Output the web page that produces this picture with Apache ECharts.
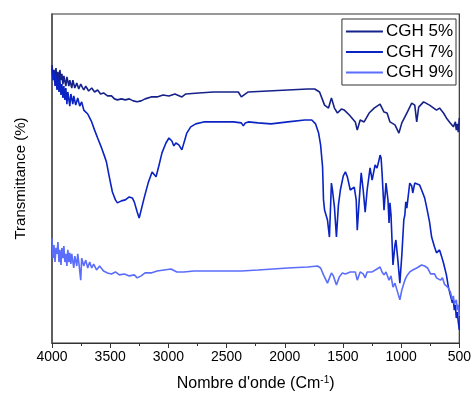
<!DOCTYPE html>
<html>
<head>
<meta charset="utf-8">
<style>
  html, body { margin: 0; padding: 0; background: #fff; }
  #chart { width: 474px; height: 397px; }
</style>
<script src="https://cdn.jsdelivr.net/npm/echarts@6/dist/echarts.min.js"></script>
</head>
<body>
<div id="chart"></div>
<script>
// FTIR spectra: [wavenumber (cm-1), transmittance (arb. units)]
const seriesNames = ['CGH 5%', 'CGH 7%', 'CGH 9%'];
const seriesColors = ['#16228a', '#0a23c2', '#5b6dfb'];

const cgh5 = [
  [4000,84.5],[3991,80.5],[3983,83.0],[3974,79.9],[3966,83.6],[3957,79.3],[3949,82.4],[3940,78.7],
  [3932,83.0],[3923,79.9],[3915,81.8],[3906,78.7],[3898,81.2],[3881,78.1],[3872,80.9],[3855,78.1],
  [3847,79.9],[3830,77.5],[3821,79.9],[3804,77.5],[3787,79.0],[3770,77.2],[3753,78.7],[3727,76.9],
  [3710,78.1],[3685,76.6],[3659,77.5],[3634,76.3],[3608,76.9],[3583,75.7],[3557,76.0],[3523,75.1],
  [3489,75.1],[3463,74.2],[3438,73.9],[3404,74.2],[3370,73.9],[3336,74.2],[3302,73.6],[3268,73.3],
  [3234,73.6],[3200,74.2],[3148,74.8],[3097,74.8],[3046,75.4],[2995,75.1],[2944,75.7],[2884,74.8],
  [2850,75.7],[2740,76.0],[2612,76.3],[2484,76.3],[2399,76.3],[2373,74.8],[2356,75.4],[2314,76.3],
  [2144,76.6],[1973,76.9],[1803,77.2],[1743,77.2],[1701,76.3],[1675,73.9],[1658,72.3],[1624,71.4],
  [1599,74.5],[1573,71.4],[1547,69.9],[1514,71.1],[1488,70.8],[1445,69.3],[1394,67.2],[1377,64.7],
  [1352,67.8],[1318,67.2],[1275,69.9],[1232,71.4],[1181,72.6],[1147,70.2],[1121,69.9],[1096,67.2],
  [1053,66.3],[1019,63.8],[994,66.9],[951,69.9],[909,72.9],[883,72.3],[866,67.2],[849,71.7],
  [807,73.3],[756,72.3],[696,70.8],[670,71.4],[636,69.9],[611,68.4],[585,67.2],[568,67.8],
  [551,65.7],[534,67.2],[526,64.7],[517,66.6],[509,64.1],[500,68.4]
];

const cgh7 = [
  [4000,83.6],[3991,79.9],[3983,82.4],[3974,78.1],[3966,81.5],[3957,76.9],[3949,80.5],[3940,76.3],
  [3932,79.9],[3923,75.4],[3915,78.7],[3906,74.5],[3898,78.1],[3889,73.9],[3881,77.5],[3872,72.6],
  [3864,76.3],[3847,72.0],[3838,75.7],[3821,72.6],[3813,75.1],[3796,72.3],[3779,74.5],[3762,72.0],
  [3745,73.3],[3727,70.8],[3710,71.4],[3693,69.6],[3676,68.4],[3659,67.2],[3634,64.7],[3608,62.3],
  [3574,59.3],[3549,56.8],[3532,55.0],[3506,50.2],[3481,45.9],[3455,43.5],[3438,42.6],[3404,43.2],
  [3370,43.5],[3336,44.4],[3310,44.1],[3293,42.9],[3268,39.8],[3251,38.0],[3234,40.4],[3208,44.1],
  [3174,48.6],[3140,52.0],[3123,51.4],[3106,50.5],[3080,54.1],[3055,57.8],[3021,60.8],[2995,62.3],
  [2970,61.4],[2953,59.9],[2936,60.8],[2910,60.2],[2884,58.7],[2859,61.7],[2842,63.8],[2808,65.7],
  [2765,66.6],[2697,67.2],[2569,67.2],[2442,67.2],[2373,66.9],[2356,66.0],[2339,66.9],[2314,67.2],
  [2229,66.9],[2118,66.6],[1973,67.2],[1828,67.8],[1768,67.8],[1735,66.6],[1709,63.8],[1692,60.2],
  [1675,53.5],[1667,43.5],[1658,40.4],[1650,39.8],[1641,40.4],[1633,37.4],[1616,32.2],[1599,48.6],
  [1590,46.5],[1573,41.3],[1556,32.2],[1539,41.9],[1522,46.5],[1497,50.8],[1479,52.0],[1462,50.5],
  [1437,46.5],[1420,47.1],[1403,47.4],[1386,43.5],[1377,34.3],[1360,43.5],[1343,51.7],[1326,46.5],
  [1309,39.8],[1292,46.5],[1267,53.2],[1249,49.5],[1224,54.1],[1207,53.2],[1190,55.6],[1181,57.1],
  [1172,56.2],[1164,51.7],[1147,40.4],[1130,48.6],[1113,43.5],[1104,36.5],[1096,42.6],[1087,38.9],
  [1070,23.7],[1053,29.8],[1045,31.3],[1028,25.2],[1011,18.2],[994,26.7],[977,37.4],[968,38.9],
  [960,42.9],[951,41.0],[934,46.2],[926,48.6],[909,47.7],[900,45.6],[883,48.6],[866,48.6],
  [841,48.0],[824,46.5],[798,44.1],[781,41.3],[756,36.8],[738,32.2],[713,29.2],[696,27.4],
  [679,27.7],[670,28.3],[653,26.4],[636,24.3],[611,20.7],[594,17.0],[577,14.6],[560,12.2],
  [551,13.1],[543,10.0],[534,11.6],[526,7.6],[517,9.4],[509,6.4],[500,4.0]
];

const cgh9 = [
  [4000,31.9],[3991,25.8],[3983,29.8],[3974,24.6],[3966,28.9],[3957,27.1],[3949,30.7],[3940,24.6],
  [3932,28.3],[3923,23.7],[3915,28.9],[3906,25.8],[3898,29.5],[3889,24.6],[3881,27.1],[3872,23.4],
  [3864,28.3],[3855,24.6],[3847,27.4],[3838,24.0],[3830,27.1],[3813,22.8],[3804,26.4],[3787,23.4],
  [3779,27.1],[3770,24.6],[3753,19.1],[3745,25.8],[3727,23.4],[3710,25.2],[3693,22.8],[3676,24.6],
  [3659,22.8],[3642,24.0],[3617,22.2],[3591,23.4],[3557,21.9],[3523,21.3],[3489,21.0],[3455,21.6],
  [3421,20.7],[3378,21.0],[3336,20.4],[3293,20.7],[3268,19.8],[3234,20.4],[3200,21.3],[3148,21.3],
  [3097,21.9],[3038,22.2],[2978,22.5],[2927,21.6],[2867,21.6],[2782,21.9],[2654,21.9],[2484,21.9],
  [2373,21.9],[2229,22.2],[1973,22.8],[1803,23.1],[1718,23.4],[1692,22.8],[1667,20.7],[1650,20.1],
  [1633,18.2],[1616,18.2],[1599,21.3],[1582,20.4],[1556,17.6],[1531,20.1],[1505,21.3],[1479,21.0],
  [1462,20.7],[1437,21.6],[1420,21.3],[1394,21.6],[1377,19.1],[1352,21.6],[1326,21.0],[1309,19.8],
  [1292,21.6],[1275,22.2],[1249,21.6],[1232,22.2],[1207,22.5],[1181,23.1],[1164,21.6],[1147,20.7],
  [1130,21.6],[1104,19.1],[1087,20.4],[1070,17.0],[1053,18.2],[1036,18.2],[1011,13.1],[994,16.1],
  [968,19.1],[951,20.4],[926,21.6],[900,22.2],[866,22.8],[824,23.7],[798,23.4],[773,22.8],
  [747,21.0],[730,20.4],[713,21.0],[696,19.8],[679,20.4],[662,19.1],[645,19.8],[628,17.9],
  [611,18.5],[594,16.7],[577,15.5],[560,13.1],[551,14.3],[543,11.9],[526,13.1],[517,10.0],
  [509,11.6],[500,8.2]
];

const xTicks = { min: 500, max: 4000, step: 500 };

const chart = echarts.init(document.getElementById('chart'), null, { renderer: 'canvas' });
const font = 'Liberation Sans, Arial, sans-serif';

chart.setOption({
  animation: false,
  backgroundColor: '#fff',
  textStyle: { fontFamily: font },
  grid: { left: 52, right: 11, top: 14, bottom: 53, show: true, borderColor: '#333', borderWidth: 1.2 },
  legend: {
    data: seriesNames,
    orient: 'vertical',
    right: 18,
    top: 19,
    borderColor: '#333',
    borderWidth: 1,
    padding: [4, 3, 4, 4],
    icon: 'rect',
    itemWidth: 37,
    itemHeight: 2,
    itemGap: 3.5,
    textStyle: { fontSize: 17, color: '#000', fontFamily: font, padding: [0, 0, 0, -2] }
  },
  xAxis: {
    type: 'value',
    inverse: true,
    min: xTicks.min,
    max: xTicks.max,
    interval: xTicks.step,
    splitLine: { show: false },
    axisLine: { onZero: false, lineStyle: { color: '#333', width: 1.2 } },
    axisTick: { show: true, inside: false, length: 5, lineStyle: { color: '#333' } },
    minorTick: { show: true, splitNumber: 2, length: 3, lineStyle: { color: '#333' } },
    axisLabel: { fontSize: 14, color: '#000', margin: 7, fontFamily: font, formatter: v => String(v) },
    name: "{a|Nombre d'onde (Cm}{s|-1}{a|)}",
    nameLocation: 'middle',
    nameGap: 32,
    nameTextStyle: {
      rich: {
        a: { fontSize: 16, color: '#000', fontFamily: font },
        s: { fontSize: 10, color: '#000', fontFamily: font, padding: [0, 0, 8, 0] }
      }
    }
  },
  yAxis: {
    type: 'value',
    min: 0,
    max: 100,
    splitLine: { show: false },
    axisLine: { show: true, onZero: false, lineStyle: { color: '#555', width: 1.5 } },
    axisTick: { show: false },
    axisLabel: { show: false },
    name: 'Transmittance (%)',
    nameLocation: 'middle',
    nameGap: 24,
    nameTextStyle: { fontSize: 15, color: '#000', fontFamily: font }
  },
  series: [cgh5, cgh7, cgh9].map((d, i) => ({
    name: seriesNames[i],
    type: 'line',
    data: d,
    symbol: 'none',
    smooth: false,
    color: seriesColors[i],
    lineStyle: { color: seriesColors[i], width: 1.6 }
  }))
});
</script>
</body>
</html>
